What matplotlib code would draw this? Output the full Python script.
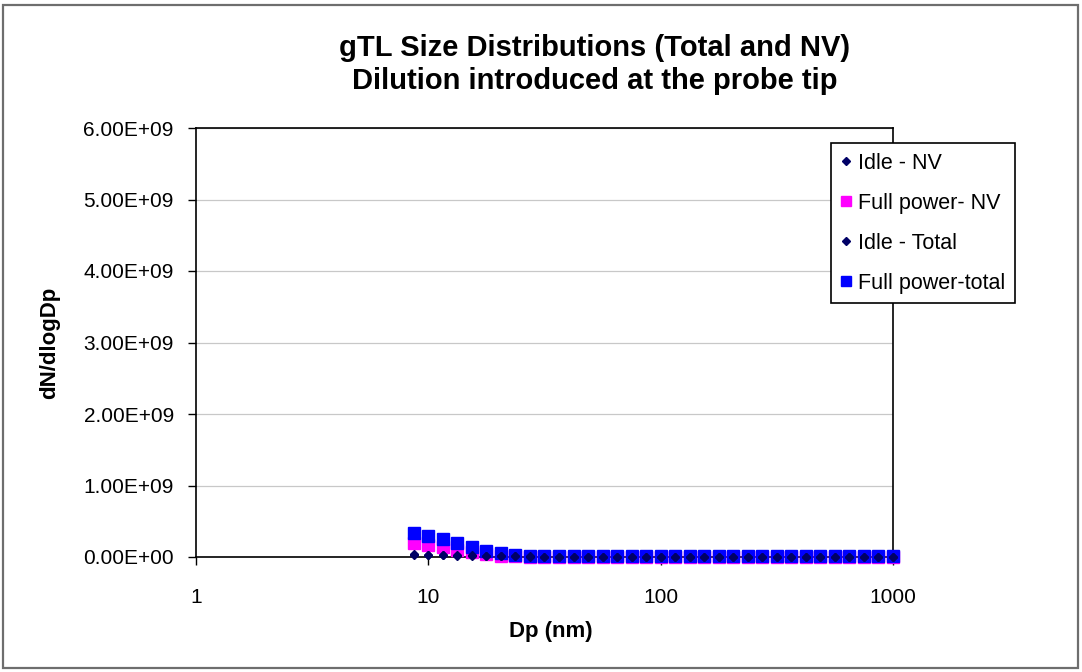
import matplotlib
matplotlib.use("Agg")
import matplotlib.pyplot as plt
from matplotlib.ticker import FuncFormatter, FixedLocator, NullLocator
from matplotlib.patches import Rectangle

plt.rcParams['font.family'] = ['Liberation Sans', 'DejaVu Sans']

# Particle mobility diameter channels (nm)
dp_nm = [8.66, 10.0, 11.55, 13.34, 15.40, 17.78, 20.54, 23.71, 27.38, 31.62,
         36.52, 42.17, 48.70, 56.23, 64.94, 74.99, 86.60, 100.0, 115.5, 133.4,
         154.0, 177.8, 205.4, 237.1, 273.8, 316.2, 365.2, 421.7, 487.0, 562.3,
         649.4, 749.9, 866.0, 1000.0]

# dN/dlogDp (particles per cm^3)
idle_nv = [2.5e7, 2.4e7, 2.2e7, 2.0e7, 1.8e7, 1.5e7, 1.2e7, 9.0e6, 6.0e6, 4.0e6,
           3.0e6, 2.0e6, 1.5e6, 1.2e6, 1.0e6, 9.0e5, 8.0e5, 7.0e5, 6.0e5, 5.0e5,
           4.0e5, 3.0e5, 2.5e5, 2.0e5, 1.5e5, 1.0e5, 8.0e4, 6.0e4, 5.0e4, 4.0e4,
           3.0e4, 2.0e4, 1.0e4, 1.0e4]
full_nv = [2.0e8, 1.7e8, 1.4e8, 1.0e8, 7.0e7, 4.0e7, 2.0e7, 1.0e7, 6.0e6, 4.0e6,
           3.0e6, 3.0e6, 2.5e6, 2.5e6, 2.0e6, 2.0e6, 2.0e6, 2.0e6, 2.0e6, 2.0e6,
           2.0e6, 2.0e6, 2.0e6, 2.0e6, 2.0e6, 2.0e6, 2.0e6, 2.0e6, 2.0e6, 2.0e6,
           2.0e6, 2.0e6, 2.0e6, 2.0e6]
idle_total = [3.5e7, 3.3e7, 3.0e7, 2.7e7, 2.4e7, 2.0e7, 1.6e7, 1.2e7, 8.0e6, 5.0e6,
              4.0e6, 3.0e6, 2.5e6, 2.0e6, 1.8e6, 1.5e6, 1.2e6, 1.0e6, 9.0e5, 8.0e5,
              7.0e5, 6.0e5, 5.0e5, 4.0e5, 3.0e5, 2.5e5, 2.0e5, 1.5e5, 1.0e5, 8.0e4,
              6.0e4, 4.0e4, 2.0e4, 1.0e4]
full_total = [3.4e8, 3.0e8, 2.5e8, 2.0e8, 1.4e8, 9.0e7, 5.0e7, 2.5e7, 1.5e7, 1.2e7,
              1.0e7, 1.0e7, 9.0e6, 9.0e6, 8.0e6, 8.0e6, 8.0e6, 8.0e6, 8.0e6, 8.0e6,
              8.0e6, 8.0e6, 8.0e6, 8.0e6, 8.0e6, 8.0e6, 8.0e6, 8.0e6, 7.0e6, 7.0e6,
              7.0e6, 7.0e6, 7.0e6, 7.0e6]

y_ticks = [0, 1e9, 2e9, 3e9, 4e9, 5e9, 6e9]
x_ticks = [1, 10, 100, 1000]
x_tick_labels = ["1", "10", "100", "1000"]

fig = plt.figure(figsize=(10.82, 6.72), dpi=100, facecolor="white")

# chart frame
fig.patches.append(Rectangle((3 / 1082, 4 / 672), 1075 / 1082, 663 / 672,
                             transform=fig.transFigure, fill=False,
                             edgecolor="#6e6e6e", linewidth=1.6))

ax = fig.add_axes([196 / 1082, 115 / 672, 697 / 1082, 429 / 672])

ax.plot(dp_nm, full_nv, linestyle="none", marker="s", markersize=8.3,
        color="#ff00ff", label="Full power- NV", zorder=3, clip_on=False)
ax.plot(dp_nm, full_total, linestyle="none", marker="s", markersize=8.3,
        color="#0000ff", label="Full power-total", zorder=4, clip_on=False)
ax.plot(dp_nm, idle_nv, linestyle="none", marker="D", markersize=4.5,
        color="#000066", label="Idle - NV", zorder=5, clip_on=False)
ax.plot(dp_nm, idle_total, linestyle="none", marker="D", markersize=4.5,
        color="#000066", label="Idle - Total", zorder=5, clip_on=False)

ax.set_xscale("log")
ax.set_xlim(1, 1000)
ax.set_ylim(0, 6e9)
ax.xaxis.set_major_locator(FixedLocator(x_ticks))
ax.xaxis.set_minor_locator(NullLocator())
ax.set_xticks(x_ticks)
ax.set_xticklabels(x_tick_labels)
ax.set_yticks(y_ticks)
ax.yaxis.set_major_formatter(FuncFormatter(lambda v, p: f"{v:.2E}"))

ax.grid(axis="y", color="#c8c8c8", linewidth=0.9)
ax.set_axisbelow(True)
for s in ax.spines.values():
    s.set_color("black")
    s.set_linewidth(1.2)

ax.tick_params(axis="y", direction="out", length=6, width=1, pad=10,
               labelsize=15, colors="black")
ax.tick_params(axis="x", direction="out", length=6, width=1, pad=16,
               labelsize=15, colors="black")

ax.set_xlabel("Dp (nm)", fontsize=16, fontweight="bold")
ax.set_ylabel("dN/dlogDp", fontsize=16, fontweight="bold")
ax.xaxis.set_label_coords((551 - 196) / 697, -64 / 429)
ax.yaxis.set_label_coords(-136 / 697, 0.5)

fig.text(595 / 1082, 1 - 48 / 672, "gTL Size Distributions (Total and NV)",
         ha="center", va="center", fontsize=21, fontweight="bold")
fig.text(595 / 1082, 1 - 81 / 672, "Dilution introduced at the probe tip",
         ha="center", va="center", fontsize=21, fontweight="bold")

h = {l.get_label(): l for l in ax.get_lines()}
order = ["Idle - NV", "Full power- NV", "Idle - Total", "Full power-total"]
leg = fig.legend([h[k] for k in order], order,
                 loc="upper left", bbox_to_anchor=(831 / 1082, 1 - 143 / 672),
                 frameon=True, fancybox=False, fontsize=15.5,
                 labelspacing=0.88, handlelength=0.5, handletextpad=0.3,
                 borderpad=0.45, borderaxespad=0, markerscale=0.8)
leg.get_frame().set_edgecolor("black")
leg.get_frame().set_linewidth(1.2)
leg.get_frame().set_alpha(None)

fig.savefig("out.png", dpi=100, facecolor="white")
